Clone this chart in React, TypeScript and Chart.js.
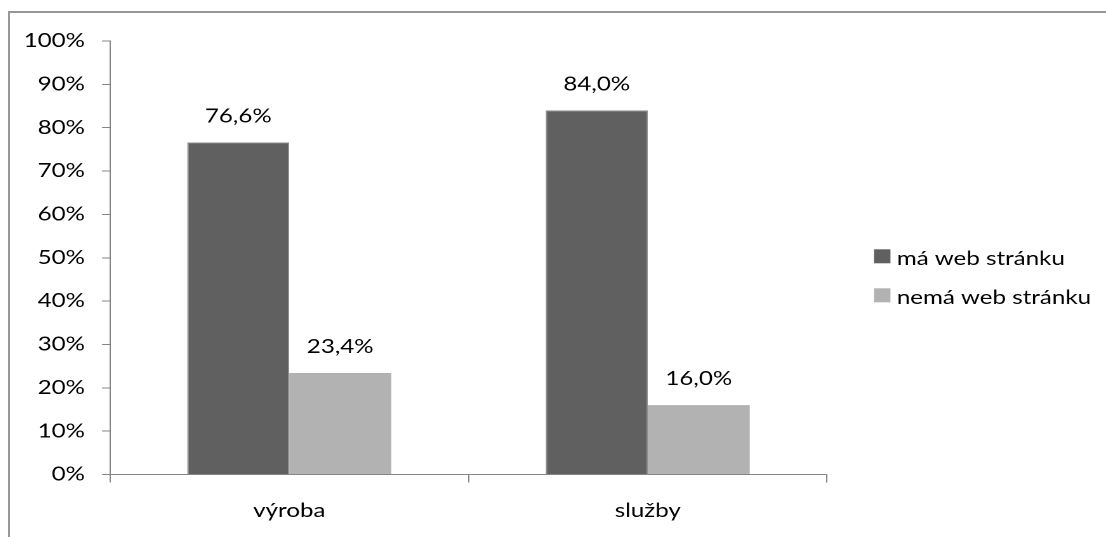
import React, { useEffect, useRef } from 'react';
import { Chart, registerables } from 'chart.js';

Chart.register(...registerables);

// ---- data ----
const categories = ['výroba', 'služby'];
const seriesNames = ['má web stránku', 'nemá web stránku'];
const hasWebValues = [76.6, 84.0];
const noWebValues = [23.4, 16.0];
const yTickValues = [0, 10, 20, 30, 40, 50, 60, 70, 80, 90, 100];

// ---- styles ----
const COLORS = ['#606060', '#b2b2b2'];
const AXIS = '#868686';
const FONT = 'Lato, "Open Sans", sans-serif';
const FONT_SIZE = 19;
const LOGICAL_W = 865;
const LOGICAL_H = 526;
const STRETCH = 1098 / LOGICAL_W;

const fmt = (v: number) => v.toFixed(1).replace('.', ',') + '%';

const dataLabelPlugin = {
  id: 'dataLabels',
  afterDatasetsDraw(chart: any) {
    const ctx = chart.ctx;
    ctx.save();
    ctx.font = `${FONT_SIZE}px ${FONT}`;
    ctx.fillStyle = '#000';
    ctx.textAlign = 'center';
    ctx.textBaseline = 'alphabetic';
    chart.data.datasets.forEach((ds: any, i: number) => {
      const meta = chart.getDatasetMeta(i);
      meta.data.forEach((el: any, j: number) => {
        ctx.fillText(fmt(ds.data[j]), el.x, el.y - 20);
      });
    });
    ctx.restore();
  },
};

const legendPlugin = {
  id: 'sideLegend',
  afterDraw(chart: any) {
    const ctx = chart.ctx;
    const area = chart.chartArea;
    ctx.save();
    ctx.font = `${FONT_SIZE}px ${FONT}`;
    ctx.textAlign = 'left';
    ctx.textBaseline = 'alphabetic';
    chart.data.datasets.forEach((ds: any, i: number) => {
      const boxX = area.right + 37;
      const boxY = 238.3 + i * 39;
      ctx.fillStyle = ds.backgroundColor;
      ctx.fillRect(boxX, boxY, 13, 14);
      ctx.fillStyle = '#000';
      ctx.fillText(ds.label, boxX + 18, boxY + 15.5);
    });
    ctx.restore();
  },
};

function BarChart() {
  const canvasRef = useRef<HTMLCanvasElement | null>(null);

  useEffect(() => {
    const canvas = canvasRef.current;
    if (!canvas) return;
    Chart.defaults.font.family = FONT;
    const chart = new Chart(canvas, {
      type: 'bar',
      data: {
        labels: categories,
        datasets: [
          {
            label: seriesNames[0],
            data: hasWebValues,
            backgroundColor: COLORS[0],
            borderColor: '#8a8a8a',
            borderWidth: 1,
            barPercentage: 1,
            categoryPercentage: 0.569,
          },
          {
            label: seriesNames[1],
            data: noWebValues,
            backgroundColor: COLORS[1],
            borderWidth: 0,
            barPercentage: 1,
            categoryPercentage: 0.569,
          },
        ],
      },
      options: {
        animation: false,
        responsive: false,
        devicePixelRatio: 2,
        layout: { padding: { top: 30, right: 219.8, left: 0, bottom: 0 } },
        plugins: {
          legend: { display: false },
          tooltip: { enabled: false },
        },
        scales: {
          x: {
            grid: {
              display: true,
              drawOnChartArea: false,
              drawTicks: true,
              tickLength: 8,
              color: AXIS,
              offset: true,
            },
            border: { display: true, color: AXIS, width: 1 },
            ticks: { font: { family: FONT, size: FONT_SIZE }, color: '#000', padding: 17 },
            afterFit: (s: any) => {
              s.height = 62.5;
            },
          },
          y: {
            min: 0,
            max: 100,
            afterBuildTicks: (s: any) => {
              s.ticks = yTickValues.map((v) => ({ value: v }));
            },
            grid: {
              display: true,
              drawOnChartArea: false,
              drawTicks: true,
              tickLength: 6.3,
              color: AXIS,
            },
            border: { display: true, color: AXIS, width: 1 },
            ticks: {
              font: { family: FONT, size: FONT_SIZE },
              color: '#000',
              padding: 13.4,
              callback: (v: any) => `${v}%`,
            },
            afterFit: (s: any) => {
              s.width = 80.35;
            },
          },
        },
      },
      plugins: [dataLabelPlugin, legendPlugin],
    } as any);
    return () => {
      chart.destroy();
    };
  }, []);

  return <canvas ref={canvasRef} width={LOGICAL_W} height={LOGICAL_H} />;
}

export default function App() {
  return (
    <div>
      <div
        style={{
          position: 'fixed',
          left: 8,
          top: 11,
          right: -10,
          bottom: -10,
          borderLeft: '2px solid #979797',
          borderTop: '2px solid #979797',
          background: '#fff',
        }}
      />
      <div
        style={{
          position: 'fixed',
          left: 8,
          top: 11,
          width: LOGICAL_W,
          height: LOGICAL_H,
          transform: `scaleX(${STRETCH})`,
          transformOrigin: '0 0',
        }}
      >
        <BarChart />
      </div>
    </div>
  );
}
